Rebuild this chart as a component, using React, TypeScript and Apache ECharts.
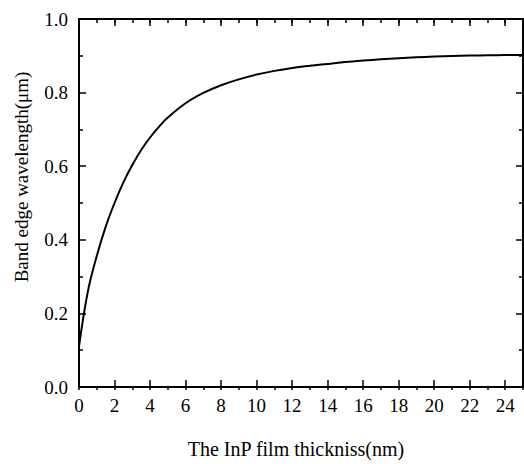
import React, { useEffect, useRef } from "react";
import * as echarts from "echarts";

const thickness = [0, 0.5, 1, 1.5, 2, 2.5, 3, 3.5, 4, 4.5, 5, 6, 7, 8, 9, 10, 11, 12, 13, 14, 15, 16, 17, 18, 19, 20, 21, 22, 23, 24, 25];
const wavelength = [0.11, 0.26, 0.356, 0.435, 0.5, 0.556, 0.603, 0.644, 0.678, 0.707, 0.732, 0.771, 0.799, 0.82, 0.836, 0.849, 0.859, 0.867, 0.873, 0.878, 0.883, 0.887, 0.8905, 0.8935, 0.896, 0.898, 0.8995, 0.9005, 0.9013, 0.902, 0.9025];

const xTitle = "The InP film thickniss(nm)";
const yTitle = "Band edge wavelength(\u03bcm)";

const FONT = "'Liberation Serif', 'DejaVu Serif', serif";

export default function App() {
  const ref = useRef<HTMLDivElement>(null);
  useEffect(() => {
    if (!ref.current) return;
    const chart = echarts.init(ref.current, null, { renderer: "svg" });
    const axisLine = { show: true, onZero: false, lineStyle: { color: "#000", width: 2 } };
    const majorX = (pos: "bottom" | "top", show: boolean) => ({
      type: "value" as const,
      gridIndex: 0,
      position: pos,
      min: 0,
      max: 25,
      interval: 2,
      axisLine,
      axisTick: { show: true, inside: true, length: 7, lineStyle: { color: "#000", width: 1.5 } },
      axisLabel: {
        show,
        showMaxLabel: false,
        margin: 9,
        color: "#000",
        fontFamily: FONT,
        fontSize: 19,
      },
      splitLine: { show: false },
      ...(show
        ? {
            name: xTitle,
            nameLocation: "middle" as const,
            nameGap: 52,
            nameTextStyle: { color: "#000", fontFamily: FONT, fontSize: 20, padding: [0, 10, 0, 0] },
          }
        : {}),
    });
    const minorX = (pos: "bottom" | "top") => ({
      type: "value" as const,
      gridIndex: 1,
      position: pos,
      min: 0,
      max: 25,
      interval: 1,
      axisLine: { show: false },
      axisTick: { show: true, inside: true, length: 4, lineStyle: { color: "#000", width: 1.5 } },
      axisLabel: { show: false },
      splitLine: { show: false },
    });
    const yAx = (pos: "left" | "right", show: boolean) => ({
      type: "value" as const,
      gridIndex: 0,
      position: pos,
      min: 0,
      max: 1,
      interval: 0.2,
      axisLine,
      axisTick: { show: true, inside: true, length: 7, lineStyle: { color: "#000", width: 1.5 } },
      minorTick: { show: true, splitNumber: 2, length: 4, lineStyle: { color: "#000", width: 1.5 } },
      axisLabel: {
        show,
        margin: 11,
        color: "#000",
        fontFamily: FONT,
        fontSize: 19,
        formatter: (v: number) => v.toFixed(1),
      },
      splitLine: { show: false },
      ...(show
        ? {
            name: yTitle,
            nameLocation: "middle" as const,
            nameGap: 48,
            nameTextStyle: { color: "#000", fontFamily: FONT, fontSize: 19, padding: [0, 0, 0, 52] },
          }
        : {}),
    });
    const gridPos = { left: 79, top: 19, width: 444, height: 371, containLabel: false };
    chart.setOption({
      animation: false,
      backgroundColor: "#fff",
      grid: [gridPos, gridPos],
      xAxis: [majorX("bottom", true), majorX("top", false), minorX("bottom"), minorX("top")],
      yAxis: [
        yAx("left", true),
        yAx("right", false),
        { type: "value", gridIndex: 1, min: 0, max: 1, show: false },
      ],
      series: [
        {
          type: "line",
          xAxisIndex: 0,
          yAxisIndex: 0,
          data: thickness.map((x, i) => [x, wavelength[i]]),
          smooth: 0.4,
          showSymbol: false,
          lineStyle: { color: "#000", width: 2 },
        },
      ],
    });
    return () => chart.dispose();
  }, []);
  return (
    <div
      ref={ref}
      style={{ position: "fixed", left: 0, top: 0, width: 524, height: 464, background: "#fff" }}
    />
  );
}
